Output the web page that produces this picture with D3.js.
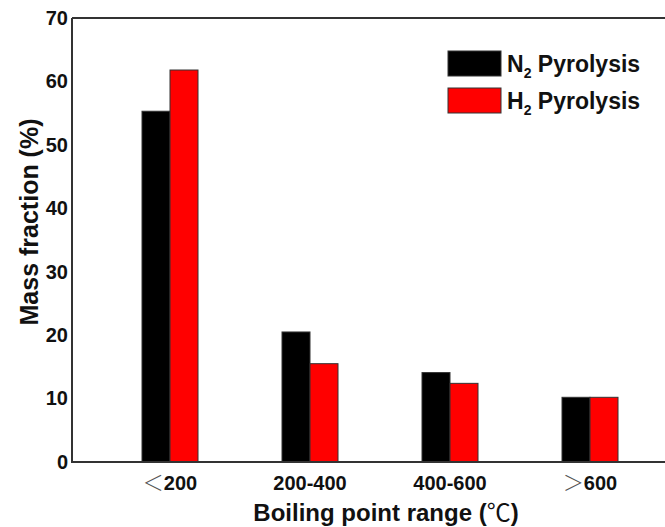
<!DOCTYPE html>
<html>
<head>
<meta charset="utf-8">
<script src="https://cdn.jsdelivr.net/npm/d3@7"></script>
<style>
  body { margin: 0; background: #fff; }
  text { font-family: "Liberation Sans", Arial, sans-serif; font-weight: bold; fill: #111; }
</style>
</head>
<body>
<svg id="chart" width="665" height="527"></svg>
<script>
// Data
const categories = ['<200', '200-400', '400-600', '>600']
const seriesNames = ['N2', 'H2']
const n2Values = [55.3, 20.5, 14.1, 10.2]
const h2Values = [61.8, 15.5, 12.4, 10.2]
const yTicks = [0, 10, 20, 30, 40, 50, 60, 70]
const colors = ['#000000', '#ff0000']

const margin = { top: 18, left: 72, bottom: 65 }
const W = 665, H = 527
const plotBottom = H - margin.bottom
const cjk = '"Noto Sans CJK SC", sans-serif'

const svg = d3.select('#chart')

// Scales
const x = d3.scaleBand()
  .domain(categories)
  .range([100, 660])
  .padding(0)

const xInner = d3.scaleBand()
  .domain(seriesNames)
  .range([0, 56])

const y = d3.scaleLinear()
  .domain([0, 70])
  .range([plotBottom, margin.top])

// Bars
const rows = categories.map((c, i) => ({ cat: c, vals: [n2Values[i], h2Values[i]] }))

const groups = svg.selectAll('.grp')
  .data(rows)
  .enter()
  .append('g')
  .attr('class', 'grp')
  .attr('transform', d => `translate(${x(d.cat) + x.bandwidth() / 2 - 28},0)`)

groups.selectAll('rect')
  .data(d => d.vals.map((v, j) => ({ key: seriesNames[j], v, j })))
  .enter()
  .append('rect')
  .attr('x', d => xInner(d.key))
  .attr('y', d => y(d.v))
  .attr('width', xInner.bandwidth())
  .attr('height', d => plotBottom - y(d.v))
  .attr('fill', d => colors[d.j])
  .attr('stroke', '#333')
  .attr('stroke-width', 1)

// Y axis (labels only, no tick marks)
const yAxis = d3.axisLeft(y).tickValues(yTicks).tickSize(0).tickPadding(4)
const yg = svg.append('g')
  .attr('transform', `translate(${margin.left},0)`)
  .call(yAxis)
yg.select('.domain').remove()
yg.selectAll('text').style('font-size', '20px').style('font-family', '"Liberation Sans", Arial, sans-serif').style('font-weight', 'bold').attr('fill', '#111')

// X axis labels
const xAxis = d3.axisBottom(x).tickSize(0).tickPadding(8).tickFormat(() => '')
const xg = svg.append('g')
  .attr('transform', `translate(0,${plotBottom})`)
  .call(xAxis)
xg.select('.domain').remove()
xg.selectAll('.tick text').each(function (d) {
  const t = d3.select(this).text(null)
    .style('font-size', '20px')
    .attr('dy', '1.0em')
  if (d[0] === '<' || d[0] === '>') {
    t.append('tspan').text(d[0] === '<' ? '＜' : '＞')
      .style('font-weight', '300').style('font-family', cjk).style('font-size', '21px').attr('fill', '#555')
    t.append('tspan').text(d.slice(1))
  } else {
    t.append('tspan').text(d)
  }
})

// Frame lines (left, top, bottom)
svg.append('line').attr('x1', margin.left).attr('x2', margin.left).attr('y1', margin.top).attr('y2', plotBottom + 1)
  .attr('stroke', '#333').attr('stroke-width', 2)
svg.append('line').attr('x1', margin.left).attr('x2', W).attr('y1', margin.top).attr('y2', margin.top)
  .attr('stroke', '#333').attr('stroke-width', 2)
svg.append('line').attr('x1', margin.left).attr('x2', W).attr('y1', plotBottom).attr('y2', plotBottom)
  .attr('stroke', '#333').attr('stroke-width', 2)

// Axis titles
svg.append('text')
  .attr('transform', `translate(38,222) rotate(-90)`)
  .attr('text-anchor', 'middle')
  .style('font-size', '25px')
  .text('Mass fraction (%)')

const xt = svg.append('text')
  .attr('x', 386)
  .attr('y', 521)
  .attr('text-anchor', 'middle')
  .style('font-size', '24px')
xt.append('tspan').text('Boiling point range (')
xt.append('tspan').text('℃').style('font-family', cjk).style('font-weight', 'normal')
xt.append('tspan').text(')')

// Legend
const legend = svg.append('g').attr('transform', 'translate(448,51)')
seriesNames.forEach((name, i) => {
  const g = legend.append('g').attr('transform', `translate(0,${i * 37})`)
  g.append('rect').attr('width', 53).attr('height', 25)
    .attr('fill', colors[i]).attr('stroke', '#333').attr('stroke-width', 1)
  const t = g.append('text').attr('x', 59).attr('y', 21).style('font-size', '23px')
  t.append('tspan').text(name[0])
  t.append('tspan').text(name.slice(1)).style('font-size', '14px').attr('dy', 6)
  t.append('tspan').text(' Pyrolysis').attr('dy', -6)
})
</script>
</body>
</html>
